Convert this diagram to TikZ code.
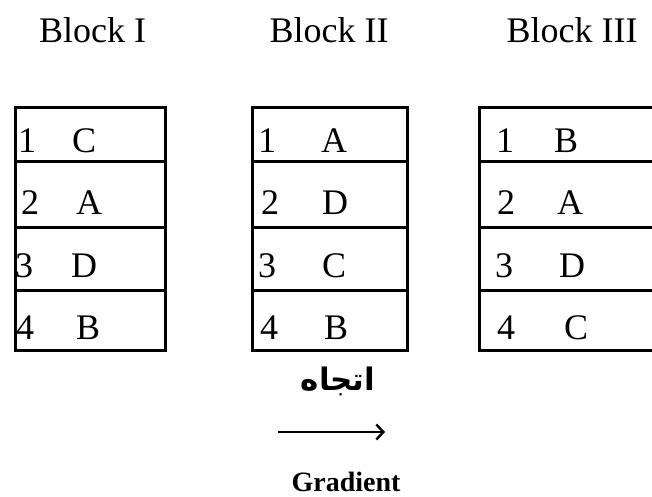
\documentclass[tikz,border=0pt]{standalone}
\usepackage{fontspec}
\setmainfont{Liberation Serif}
\newfontfamily\arabicfont[Script=Arabic]{DejaVu Sans}
\TeXXeTstate=1
\usetikzlibrary{arrows.meta}
\begin{document}
\begin{tikzpicture}[x=1pt,y=1pt,
  hdr/.style={font=\fontsize{36}{40}\selectfont, inner sep=0pt, anchor=base},
  cell/.style={font=\fontsize{36}{40}\selectfont, inner sep=0pt, anchor=base west},
  row/.style={draw, line width=3.4pt, inner sep=0pt, anchor=north west, minimum width=#1},
  rA/.style={minimum height=54pt},
  rB/.style={minimum height=66pt},
  rC/.style={minimum height=63pt},
  rD/.style={minimum height=60pt}]
\useasboundingbox (0,0) rectangle (652,-496);
\clip (0,0) rectangle (652,-496);

% headers
\node[hdr] (h1) at (92.5,-42) {Block I};
\node[hdr] (h2) at (329,-42) {Block II};
\node[hdr] (h3) at (572,-42) {Block III};

% Block I
\node[row=150pt, rA] (a1) at (14,-106) {};
\node[row=150pt, rB] (a2) at (14,-160) {};
\node[row=150pt, rC] (a3) at (14,-226) {};
\node[row=150pt, rD] (a4) at (14,-289) {};
% Block II
\node[row=155pt, rA] (b1) at (251,-106) {};
\node[row=155pt, rB] (b2) at (251,-160) {};
\node[row=155pt, rC] (b3) at (251,-226) {};
\node[row=155pt, rD] (b4) at (251,-289) {};
% Block III (runs off the right edge)
\node[row=200pt, rA] (c1) at (478,-106) {};
\node[row=200pt, rB] (c2) at (478,-160) {};
\node[row=200pt, rC] (c3) at (478,-226) {};
\node[row=200pt, rD] (c4) at (478,-289) {};

% Block I contents
\node[cell] (a1n) at (18,-152) {1};  \node[cell] (a1l) at (72,-152) {C};
\node[cell] (a2n) at (21,-214) {2};  \node[cell] (a2l) at (76,-214) {A};
\node[cell] (a3n) at (15,-277) {3};  \node[cell] (a3l) at (71,-277) {D};
\node[cell] (a4n) at (16,-339) {4};  \node[cell] (a4l) at (76,-339) {B};
% Block II contents
\node[cell] (b1n) at (258,-152) {1}; \node[cell] (b1l) at (321,-152) {A};
\node[cell] (b2n) at (261,-214) {2}; \node[cell] (b2l) at (322,-214) {D};
\node[cell] (b3n) at (258,-277) {3}; \node[cell] (b3l) at (322,-277) {C};
\node[cell] (b4n) at (260,-339) {4}; \node[cell] (b4l) at (324,-339) {B};
% Block III contents
\node[cell] (c1n) at (496,-152) {1}; \node[cell] (c1l) at (554,-152) {B};
\node[cell] (c2n) at (497,-214) {2}; \node[cell] (c2l) at (557,-214) {A};
\node[cell] (c3n) at (495,-277) {3}; \node[cell] (c3l) at (559,-277) {D};
\node[cell] (c4n) at (497,-339) {4}; \node[cell] (c4l) at (564,-339) {C};

% direction label and arrow
\node[font=\arabicfont\bfseries\fontsize{31}{36}\selectfont, anchor=base, inner sep=0pt] (dir) at (338,-390) {\beginR اتجاه\endR};
\coordinate (as) at (278,-432);
\coordinate (ae) at (385,-432);
\draw[line width=2.4pt, -{Straight Barb[length=7pt,width=15pt,line width=2.4pt]}] (as) -- (ae);
\node[font=\bfseries\fontsize{28}{32}\selectfont, anchor=base, inner sep=0pt] (grad) at (346,-491) {Gradient};
\end{tikzpicture}
\end{document}
